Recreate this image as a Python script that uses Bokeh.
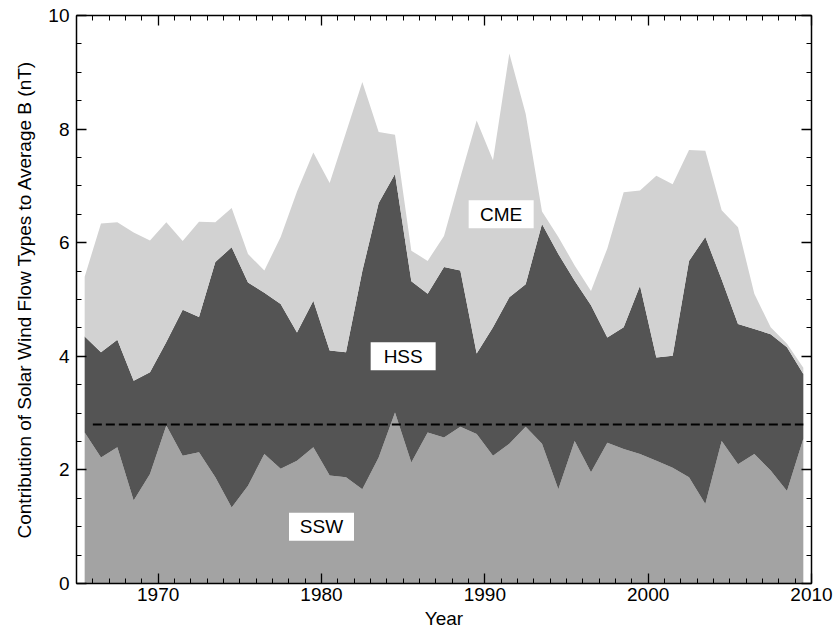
from bokeh.plotting import figure
from bokeh.models import (ColumnDataSource, Range1d, LinearAxis, SingleIntervalTicker,
                          CustomJSTickFormatter)
from bokeh.core.properties import value
from bokeh.embed import file_html
from bokeh.resources import INLINE

# Annual contributions (nT) of each solar wind flow type to the average field B
years = list(range(1965, 2010))
ssw = [2.66, 2.22, 2.40, 1.46, 1.93, 2.78, 2.25, 2.31, 1.87, 1.34,
       1.72, 2.28, 2.02, 2.16, 2.40, 1.90, 1.87, 1.66, 2.22, 3.01,
       2.13, 2.66, 2.57, 2.76, 2.63, 2.25, 2.46, 2.76, 2.46, 1.66,
       2.51, 1.96, 2.48, 2.37, 2.28, 2.16, 2.04, 1.87, 1.40, 2.51,
       2.10, 2.28, 1.99, 1.63, 2.55]
hss = [1.69, 1.85, 1.89, 2.11, 1.79, 1.47, 2.57, 2.38, 3.79, 4.58,
       3.58, 2.84, 2.90, 2.26, 2.58, 2.20, 2.20, 3.84, 4.48, 4.20,
       3.19, 2.44, 3.00, 2.75, 1.42, 2.26, 2.58, 2.51, 3.87, 4.14,
       2.82, 2.94, 1.85, 2.14, 2.96, 1.82, 1.97, 3.81, 4.70, 2.84,
       2.47, 2.20, 2.40, 2.53, 1.14]
cme = [1.05, 2.27, 2.07, 2.61, 2.32, 2.11, 1.21, 1.68, 0.70, 0.69,
       0.50, 0.39, 1.18, 2.48, 2.61, 2.95, 3.87, 3.33, 1.25, 0.69,
       0.54, 0.58, 0.55, 1.64, 4.10, 2.94, 4.29, 3.00, 0.22, 0.30,
       0.27, 0.25, 1.57, 2.38, 1.68, 3.20, 3.02, 1.95, 1.52, 1.22,
       1.70, 0.62, 0.12, 0.06, 0.11]

# Long-term mean level of the slow solar wind reference line
mean_level = 2.8
mean_span = [1966.0, 2009.5]

type_names = ["SSW", "HSS", "CME"]
type_colors = ["#a3a3a3", "#545454", "#d2d2d2"]
label_x = [1980.0, 1985.0, 1991.0]
label_y = [1.0, 4.0, 6.5]

FONT = "Liberation Sans"

source = ColumnDataSource(dict(
    x=[y + 0.5 for y in years],
    SSW=ssw,
    HSS=hss,
    CME=cme,
))

p = figure(
    width=835, height=641,
    x_range=Range1d(1965, 2010), y_range=Range1d(0, 10),
    output_backend="svg", toolbar_location=None,
    x_axis_label="Year",
    y_axis_label="Contribution of Solar Wind Flow Types to Average B (nT)",
    min_border_left=76, min_border_right=24,
    min_border_top=15, min_border_bottom=58,
)
p.xgrid.visible = False
p.ygrid.visible = False
p.outline_line_color = None
p.background_fill_color = "white"
p.border_fill_color = "white"

p.varea_stack(stackers=type_names, x="x", color=type_colors, source=source)

p.line(x=mean_span, y=[mean_level, mean_level], line_color="black",
       line_width=2, line_dash="9 4")

# White boxes with the flow-type names
p.rect(x=label_x, y=label_y, width=65, height=28,
       width_units="screen", height_units="screen",
       fill_color="white", line_color=None)
p.text(x=label_x, y=label_y, text=type_names,
       text_font=value(FONT), text_font_size=value("19px"),
       text_align="center", text_baseline="middle", text_color="black")


def style_axis(ax, show_labels):
    ax.axis_line_color = "black"
    ax.axis_line_width = 1.5
    ax.major_tick_line_color = "black"
    ax.minor_tick_line_color = "black"
    ax.major_tick_line_width = 1.3
    ax.minor_tick_line_width = 1.0
    ax.major_tick_in = 10
    ax.major_tick_out = 0
    ax.minor_tick_in = 5
    ax.minor_tick_out = 0
    if show_labels:
        ax.major_label_text_font = FONT
        ax.major_label_text_font_size = "19px"
        ax.major_label_text_color = "black"
        ax.axis_label_text_font = FONT
        ax.axis_label_text_font_size = "19px"
        ax.axis_label_text_font_style = "normal"
        ax.axis_label_text_color = "black"
    else:
        # mirror axis: ticks only
        ax.formatter = CustomJSTickFormatter(code="return '';")
        ax.major_label_standoff = 0


xa = p.xaxis[0]
xa.ticker = SingleIntervalTicker(interval=10, num_minor_ticks=10)
style_axis(xa, True)
xa.major_label_standoff = 4
xa.axis_label_standoff = 4

ya = p.yaxis[0]
ya.ticker = SingleIntervalTicker(interval=2, num_minor_ticks=4)
style_axis(ya, True)
ya.major_label_standoff = 7
ya.axis_label_standoff = 10

top = LinearAxis(ticker=SingleIntervalTicker(interval=10, num_minor_ticks=10))
style_axis(top, False)
p.add_layout(top, "above")

right = LinearAxis(ticker=SingleIntervalTicker(interval=2, num_minor_ticks=4))
style_axis(right, False)
p.add_layout(right, "right")

open("out.html", "w").write(file_html(p, INLINE))
